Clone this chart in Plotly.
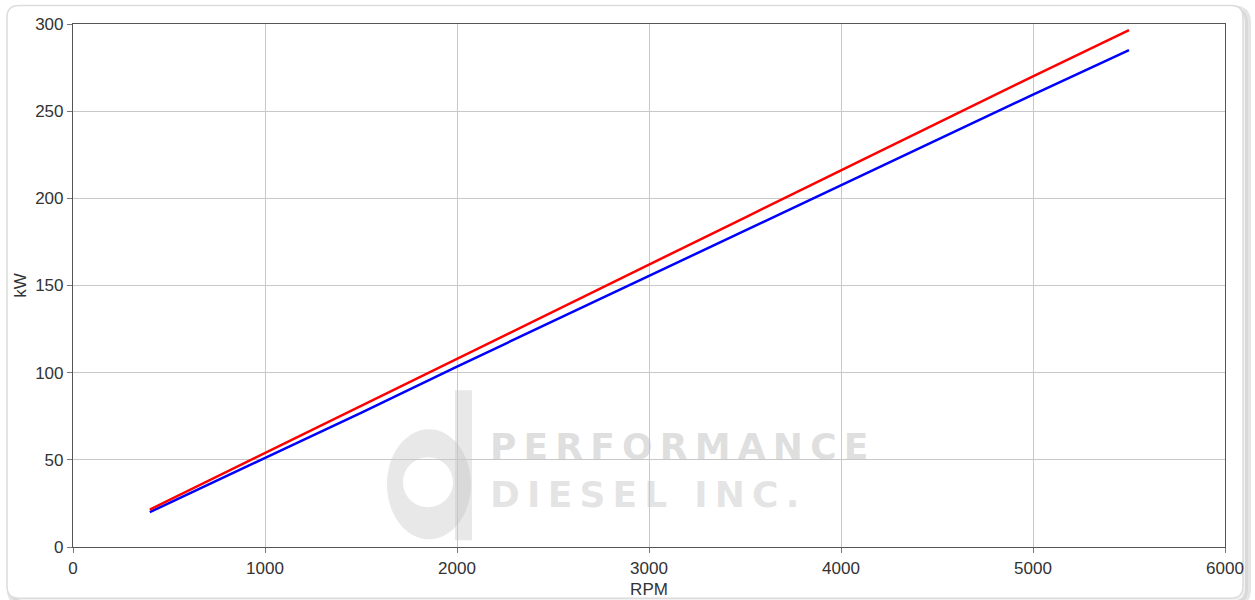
import plotly.graph_objects as go

# ---- data ----
rpm = [400, 1000, 1500, 2000, 2500, 3000, 3500, 4000, 4500, 5000, 5500]
kw_red = [21.5, 54, 81, 108, 135, 162, 189, 216, 243, 270, 296.5]
kw_blue = [20, 51, 77, 103.5, 129.5, 155.5, 181.5, 207.5, 233.5, 259.5, 285]
x_ticks = [0, 1000, 2000, 3000, 4000, 5000, 6000]
y_ticks = [0, 50, 100, 150, 200, 250, 300]

W, H = 1255, 600
L, R, T, B = 73, 1225, 23.5, 546.7


def px(x):
    return (x - L) / (R - L)


def py(y):
    return (B - y) / (B - T)


def rrect(x0, y0, x1, y1, r):
    pts = [
        f"M{px(x0 + r)},{py(y0)}",
        f"L{px(x1 - r)},{py(y0)}",
        f"Q{px(x1)},{py(y0)} {px(x1)},{py(y0 + r)}",
        f"L{px(x1)},{py(y1 - r)}",
        f"Q{px(x1)},{py(y1)} {px(x1 - r)},{py(y1)}",
        f"L{px(x0 + r)},{py(y1)}",
        f"Q{px(x0)},{py(y1)} {px(x0)},{py(y1 - r)}",
        f"L{px(x0)},{py(y0 + r)}",
        f"Q{px(x0)},{py(y0)} {px(x0 + r)},{py(y0)}",
        "Z",
    ]
    return " ".join(pts)


def ellipse(cx, cy, rx, ry, reverse=False):
    k = 0.5523
    if not reverse:
        seq = [
            ((cx + rx, cy), (cx + rx, cy + k * ry), (cx + k * rx, cy + ry), (cx, cy + ry)),
            (None, (cx - k * rx, cy + ry), (cx - rx, cy + k * ry), (cx - rx, cy)),
            (None, (cx - rx, cy - k * ry), (cx - k * rx, cy - ry), (cx, cy - ry)),
            (None, (cx + k * rx, cy - ry), (cx + rx, cy - k * ry), (cx + rx, cy)),
        ]
    else:
        seq = [
            ((cx + rx, cy), (cx + rx, cy - k * ry), (cx + k * rx, cy - ry), (cx, cy - ry)),
            (None, (cx - k * rx, cy - ry), (cx - rx, cy - k * ry), (cx - rx, cy)),
            (None, (cx - rx, cy + k * ry), (cx - k * rx, cy + ry), (cx, cy + ry)),
            (None, (cx + k * rx, cy + ry), (cx + rx, cy + k * ry), (cx + rx, cy)),
        ]
    s = []
    for st, c1, c2, e in seq:
        if st is not None:
            s.append(f"M{px(st[0])},{py(st[1])}")
        s.append(f"C{px(c1[0])},{py(c1[1])} {px(c2[0])},{py(c2[1])} {px(e[0])},{py(e[1])}")
    s.append("Z")
    return " ".join(s)


fig = go.Figure()
fig.add_trace(go.Scatter(x=rpm, y=kw_blue, mode="lines",
                         line=dict(color="#0000ff", width=2.5), showlegend=False))
fig.add_trace(go.Scatter(x=rpm, y=kw_red, mode="lines",
                         line=dict(color="#ff0000", width=2.5), showlegend=False))

shapes = [
    # card shadow
    dict(type="path", xref="paper", yref="paper", layer="below",
         path=rrect(10, 8, 1248, 603, 14),
         line=dict(color="rgba(0,0,0,0.10)", width=6), fillcolor="rgba(0,0,0,0.05)"),
    # card
    dict(type="path", xref="paper", yref="paper", layer="below",
         path=rrect(7, 5, 1243, 598, 12),
         line=dict(color="#dcdcdc", width=1.5), fillcolor="white"),
    # watermark logo "d"
    dict(type="path", xref="paper", yref="paper", layer="below",
         path=ellipse(429, 484, 42, 55) + " " + ellipse(428, 482, 25, 25, reverse=True),
         line=dict(width=0), fillcolor="rgba(190,190,190,0.35)"),
    dict(type="rect", xref="paper", yref="paper", layer="below",
         x0=px(455), x1=px(472), y0=py(540), y1=py(390),
         line=dict(width=0), fillcolor="rgba(190,190,190,0.35)"),
]

SP = "\u2009"
annotations = [
    dict(text=SP.join("PERFORMANCE"), xref="paper", yref="paper", x=px(488), y=py(446),
         xanchor="left", yanchor="middle", showarrow=False,
         font=dict(family="DejaVu Sans", size=36, color="rgba(195,195,195,0.55)", weight="bold")),
    dict(text=SP.join("DIESEL INC."), xref="paper", yref="paper", x=px(488), y=py(494),
         xanchor="left", yanchor="middle", showarrow=False,
         font=dict(family="DejaVu Sans", size=36, color="rgba(195,195,195,0.45)", weight="bold")),
]

axis_common = dict(
    showgrid=True, gridcolor="#c8c8c8", gridwidth=1,
    showline=True, linecolor="#555555", linewidth=1.2, mirror=True,
    ticks="outside", ticklen=5, tickcolor="#777777",
    zeroline=False, automargin=False,
    tickfont=dict(family="Liberation Sans, Arial", size=17, color="#333333"),
)

fig.update_layout(
    width=W, height=H,
    margin=dict(l=L, r=W - R, t=T, b=H - B, autoexpand=False),
    paper_bgcolor="white", plot_bgcolor="rgba(0,0,0,0)",
    shapes=shapes, annotations=annotations,
    xaxis=dict(range=[0, 6000], tickvals=x_ticks, ticktext=[str(v) for v in x_ticks],
               title=dict(text="RPM", standoff=6,
                          font=dict(family="Liberation Sans, Arial", size=17, color="#333333")),
               **axis_common),
    yaxis=dict(range=[0, 300], tickvals=y_ticks, ticktext=[str(v) for v in y_ticks],
               title=dict(text="kW", standoff=4,
                          font=dict(family="Liberation Sans, Arial", size=17, color="#333333")),
               **axis_common),
)

fig.write_html("out.html",
               config={"displayModeBar": False},
               post_script="document.body.style.margin='0';document.body.style.overflow='hidden';")
